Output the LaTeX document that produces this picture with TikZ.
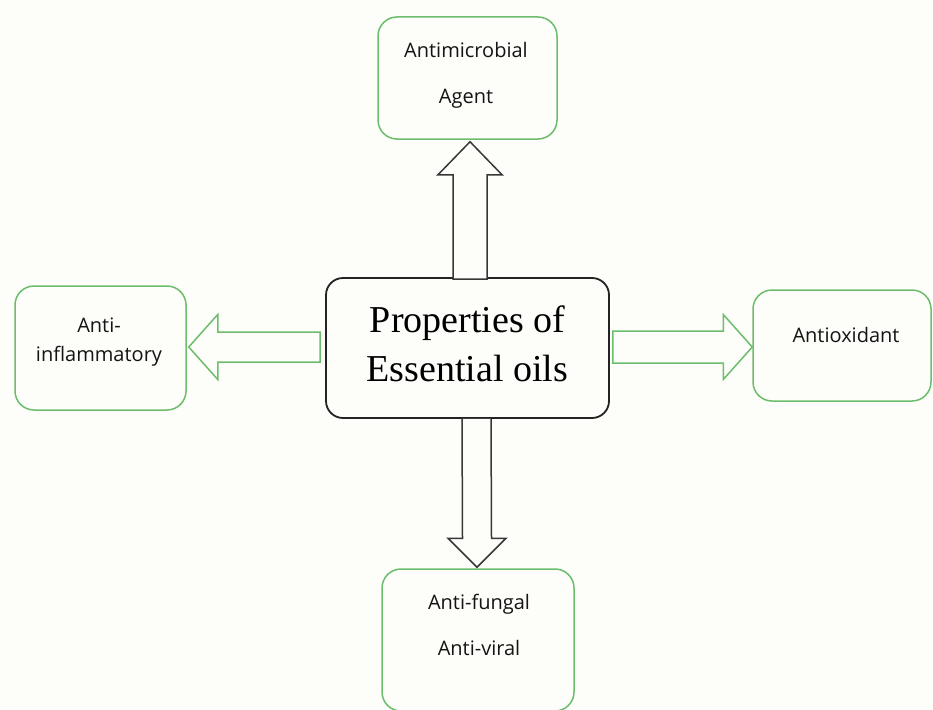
\documentclass[tikz,border=0pt]{standalone}
\usepackage{fontspec}
\setmainfont{Liberation Serif}
\newfontfamily\labelfont{Open Sans}
\usetikzlibrary{calc}
\definecolor{bg}{RGB}{253,253,249}
\definecolor{boxgreen}{RGB}{108,190,108}
\definecolor{darkline}{RGB}{35,35,35}
\definecolor{arrowgray}{RGB}{55,55,55}
\definecolor{txt}{RGB}{20,20,20}
\begin{document}
\begin{tikzpicture}[x=1pt,y=-1pt,
  gbox/.style={draw=boxgreen, line width=1.5pt, rounded corners=19pt, inner sep=0pt},
  cbox/.style={draw=darkline, line width=1.8pt, rounded corners=17pt, inner sep=0pt},
  gtext/.style={font=\labelfont\fontsize{20}{29}\selectfont, align=center, text=txt, inner sep=0pt},
  ctext/.style={font=\fontsize{38}{49}\selectfont, align=center, text=black, inner sep=0pt},
  grayarrow/.style={draw=arrowgray, line width=1.5pt, fill=bg, line join=miter},
  greenarrow/.style={draw=boxgreen, line width=1.5pt, fill=bg, line join=miter}
]
\fill[bg] (0,0) rectangle (933,709);
\useasboundingbox (0,0) rectangle (933,709);

% boxes
\node[gbox, minimum width=179pt, minimum height=122pt] (top) at (467.5,78) {};
\node[cbox, minimum width=283pt, minimum height=140pt] (c) at (467.5,348) {};
\node[gbox, minimum width=171pt, minimum height=124pt] (left) at (100.5,348) {};
\node[gbox, minimum width=178pt, minimum height=111pt] (right) at (842,345.5) {};
\node[gbox, minimum width=192pt, minimum height=142pt] (bot) at (478,640) {};

% texts
\node[gtext, font=\labelfont\fontsize{20}{46}\selectfont] (toptext) at (466,75) {Antimicrobial\\Agent};
\node[ctext] (ctxt) at (467.5,344) {Properties of\\Essential oils};
\node[gtext] (lefttext) at (99,342.5) {Anti-\\inflammatory};
\node[gtext] (righttext) at (846,335) {Antioxidant};
\node[gtext, font=\labelfont\fontsize{20}{46}\selectfont] (bottext) at (479,625) {Anti-fungal\\Anti-viral};

% up arrow
\coordinate (ub) at ($(c.north)+(2.5,2)$);
\coordinate (ut) at ($(top.south)+(2.5,2)$);
\draw[grayarrow] ($(ub)+(-17,0)$) -- ($(ut)+(-17,33)$) -- ($(ut)+(-32,33)$) -- (ut)
  -- ($(ut)+(32,33)$) -- ($(ut)+(17,33)$) -- ($(ub)+(17,0)$) -- cycle;

% down arrow
\coordinate (db) at ($(c.south -| bot.north)+(-1.5,0)$);
\coordinate (dt) at ($(bot.north)+(-1,-1)$);
\draw[grayarrow] ($(db)+(-14.5,0)$) -- ($(dt)+(-14.5,-29)$) -- ($(dt)+(-29,-29)$) -- (dt)
  -- ($(dt)+(29,-29)$) -- ($(dt)+(14.5,-29)$) -- ($(db)+(14.5,0)$);

% left arrow
\coordinate (lb) at ($(c.west)+(-5,-1)$);
\coordinate (lt) at ($(left.east)+(2,-1)$);
\draw[greenarrow] ($(lb)+(0,-15)$) -- ($(lt)+(29,-15)$) -- ($(lt)+(29,-32.5)$) -- (lt)
  -- ($(lt)+(29,32.5)$) -- ($(lt)+(29,15)$) -- ($(lb)+(0,15)$) -- cycle;

% right arrow
\coordinate (rb) at ($(c.east)+(3,-1)$);
\coordinate (rt) at ($(right.west)+(0,1.5)$);
\draw[greenarrow] ($(rb)+(0,-16)$) -- ($(rt)+(-29,-16)$) -- ($(rt)+(-29,-32.5)$) -- (rt)
  -- ($(rt)+(-29,32.5)$) -- ($(rt)+(-29,16)$) -- ($(rb)+(0,16)$) -- cycle;
\end{tikzpicture}
\end{document}
